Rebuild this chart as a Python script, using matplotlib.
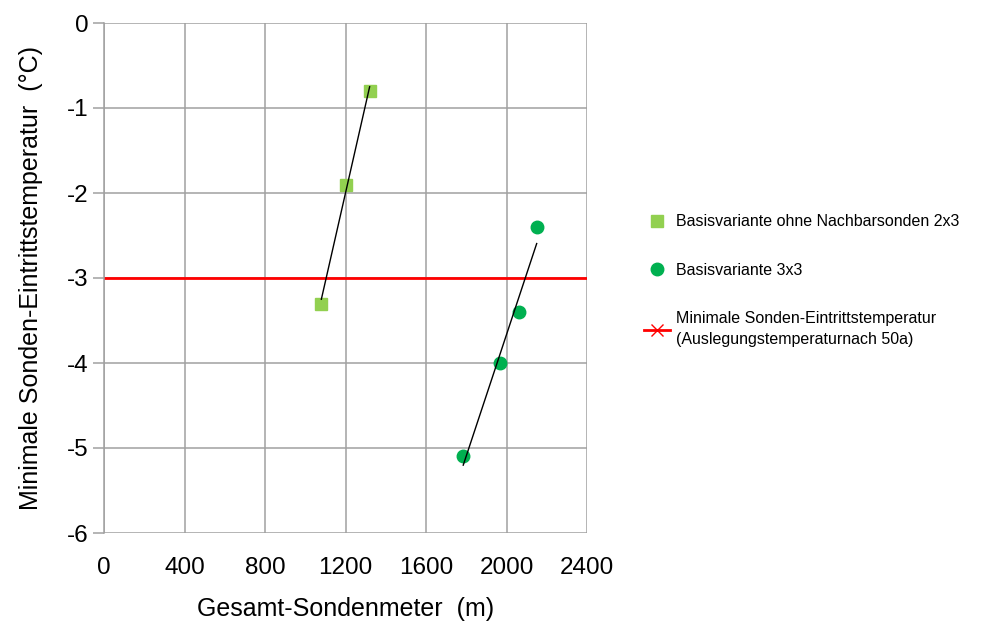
from matplotlib import pyplot as plt
import numpy

plt.rcParams['font.family'] = ['Liberation Sans', 'DejaVu Sans']
plt.rcParams['axes.unicode_minus'] = False

# data
x_2x3 = [1080, 1200, 1320]
y_2x3 = [-3.3, -1.9, -0.8]
x_3x3 = [1785, 1970, 2062, 2150]
y_3x3 = [-5.1, -4.0, -3.4, -2.4]
t_min = -3.0

xticks = [0, 400, 800, 1200, 1600, 2000, 2400]
yticks = [0, -1, -2, -3, -4, -5, -6]

grid_col = '#a0a0a0'

fig = plt.figure(figsize=(9.84, 6.24), dpi=100)
ax = fig.add_axes([104/984, 1-533/624, (587-104)/984, (533-23)/624])

ax.set_xlim(0, 2400)
ax.set_ylim(-6, 0)
ax.set_xticks(xticks)
ax.set_yticks(yticks)
ax.grid(True, color=grid_col, linewidth=1.1)
ax.set_axisbelow(True)
for s in ax.spines.values():
	s.set_visible(False)
ax.spines['left'].set_visible(True)
ax.spines['left'].set_color(grid_col)
ax.spines['left'].set_linewidth(1.1)
ax.tick_params(axis='y', length=8, width=1.1, color=grid_col, labelsize=17.5, pad=3)
ax.tick_params(axis='x', length=0, labelsize=17.5, pad=17)

# trend lines (linear fit like excel)
for xs, ys in [(x_2x3, y_2x3), (x_3x3, y_3x3)]:
	k, d = numpy.polyfit(xs, ys, 1)
	xx = numpy.array([min(xs), max(xs)])
	ax.plot(xx, k*xx + d, color='black', linewidth=1.0, zorder=4)

ax.plot(x_2x3, y_2x3, 's', color='#92d050', markersize=9, linestyle='none',
	label='Basisvariante ohne Nachbarsonden 2x3', zorder=3)
ax.plot(x_3x3, y_3x3, 'o', color='#00b050', markersize=9, linestyle='none',
	label='Basisvariante 3x3', zorder=3)
ax.axhline(t_min, color='red', linewidth=2, zorder=2,
	label='Minimale Sonden-Eintrittstemperatur\n(Auslegungstemperaturnach 50a)')

h, l = ax.get_legend_handles_labels()
h[2] = plt.Line2D([], [], color='red', linewidth=2, marker='x', markersize=8)
leg = ax.legend(h, l, loc='upper left', bbox_to_anchor=(630/984, 1-200/624),
	bbox_transform=fig.transFigure, frameon=False, fontsize=11.5,
	labelspacing=2.1, handlelength=1.6, handletextpad=0.4)
for t in leg.get_texts():
	t.set_linespacing(1.5)

ax.set_xlabel('Gesamt-Sondenmeter  (m)', fontsize=18, labelpad=13)
ax.set_ylabel('Minimale Sonden-Eintrittstemperatur  (°C)', fontsize=18, labelpad=17)

plt.savefig('out.png')
